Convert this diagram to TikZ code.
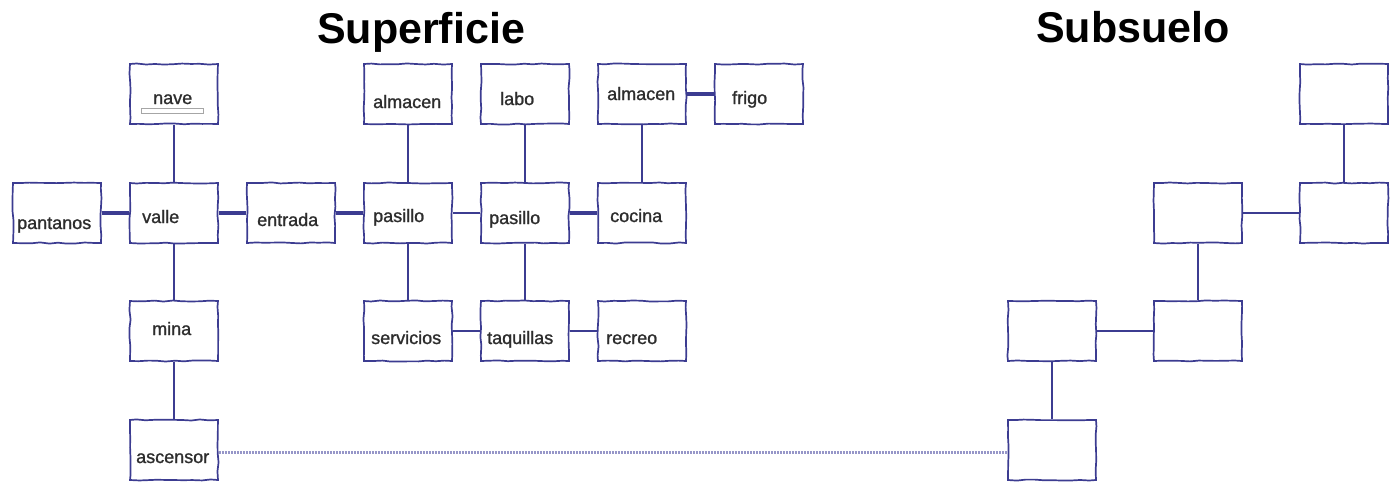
\documentclass[tikz,border=0pt]{standalone}
\usepackage{fontspec}
\setmainfont{Liberation Sans}
\newfontfamily\lblfont[FakeBold=1.2]{Liberation Sans}
\usetikzlibrary{decorations.pathmorphing}
\definecolor{ink}{RGB}{60,60,145}
\definecolor{dotink}{RGB}{150,150,200}
\definecolor{txt}{RGB}{45,45,45}
\begin{document}
\begin{tikzpicture}[x=1pt,y=-1pt,
  room/.style={draw=ink, line width=1.7pt, minimum width=88pt, minimum height=60pt, inner sep=0pt,
    decorate, decoration={random steps, segment length=9pt, amplitude=0.6pt}},
  lbl/.style={anchor=base west, inner sep=0pt, text=txt, font=\lblfont\fontsize{18}{20}\selectfont},
  title/.style={anchor=base, inner sep=0pt, font=\fontsize{43}{46}\selectfont\bfseries},
  link/.style={draw=ink, line width=1.7pt},
  heavylink/.style={draw=ink, line width=3.6pt},
  midlink/.style={draw=ink, line width=2.6pt},
  lift/.style={draw=dotink, line width=3pt, dash pattern=on 2pt off 1pt}]
\pgfmathsetseed{7}
\useasboundingbox (0,0) rectangle (1395,482);
% titles
\node[title] (tsup) at (421,43) {Superficie};
\node[title] (tsub) at (1133,42) {Subsuelo};
% surface rooms
\node[room] (nave) at (174,94) {};
\node[room] (pantanos) at (57,213) {};
\node[room] (valle) at (174,213) {};
\node[room] (entrada) at (291,213) {};
\node[room] (mina) at (174,331) {};
\node[room] (ascensor) at (174,450) {};
\node[room] (almacenA) at (408,94) {};
\node[room] (labo) at (525,94) {};
\node[room] (almacenB) at (642,94) {};
\node[room] (frigo) at (759,94) {};
\node[room] (pasilloA) at (408,213) {};
\node[room] (pasilloB) at (525,213) {};
\node[room] (cocina) at (642,213) {};
\node[room] (servicios) at (408,331) {};
\node[room] (taquillas) at (525,331) {};
\node[room] (recreo) at (642,331) {};
% underground rooms
\node[room] (s1) at (1344,94) {};
\node[room] (s2) at (1344,213) {};
\node[room] (s3) at (1198,213) {};
\node[room] (s4) at (1198,331) {};
\node[room] (s5) at (1052,331) {};
\node[room] (s6) at (1052,450) {};
% labels
\node[lbl] (lnave) at (153,104) {nave};
\node[draw=gray!70, line width=0.6pt, minimum width=62pt, minimum height=5pt, inner sep=0pt] (navefield) at (172,110.5) {};
\node[lbl] (lpantanos) at (17,229) {pantanos};
\node[lbl] (lvalle) at (142,223) {valle};
\node[lbl] (lentrada) at (257,226) {entrada};
\node[lbl] (lmina) at (152,335) {mina};
\node[lbl] (lascensor) at (136,463) {ascensor};
\node[lbl] (lalmacenA) at (373,108) {almacen};
\node[lbl] (llabo) at (500,105) {labo};
\node[lbl] (lalmacenB) at (607,100) {almacen};
\node[lbl] (lfrigo) at (732,104) {frigo};
\node[lbl] (lpasilloA) at (373,222) {pasillo};
\node[lbl] (lpasilloB) at (489,224) {pasillo};
\node[lbl] (lcocina) at (610,222) {cocina};
\node[lbl] (lservicios) at (371,344) {servicios};
\node[lbl] (ltaquillas) at (487,344) {taquillas};
\node[lbl] (lrecreo) at (606,344) {recreo};
% connectors
\draw[link] (nave) -- (valle);
\draw[link] (valle) -- (mina);
\draw[link] (mina) -- (ascensor);
\draw[heavylink] (pantanos) -- (valle);
\draw[heavylink] (valle) -- (entrada);
\draw[heavylink] (entrada) -- (pasilloA);
\draw[midlink] (pasilloA) -- (pasilloB);
\draw[heavylink] (pasilloB) -- (cocina);
\draw[heavylink] (almacenB) -- (frigo);
\draw[link] (almacenA) -- (pasilloA);
\draw[link] (pasilloA) -- (servicios);
\draw[link] (labo) -- (pasilloB);
\draw[link] (pasilloB) -- (taquillas);
\draw[link] (almacenB) -- (cocina);
\draw[link] (servicios) -- (taquillas);
\draw[link] (taquillas) -- (recreo);
\draw[link] (s1) -- (s2);
\draw[link] (s3) -- (s2);
\draw[link] (s3) -- (s4);
\draw[link] (s5) -- (s4);
\draw[link] (s5) -- (s6);
\draw[lift] (ascensor.east) ++(0,2) coordinate (la) -- (la -| s6.west);
\end{tikzpicture}
\end{document}
